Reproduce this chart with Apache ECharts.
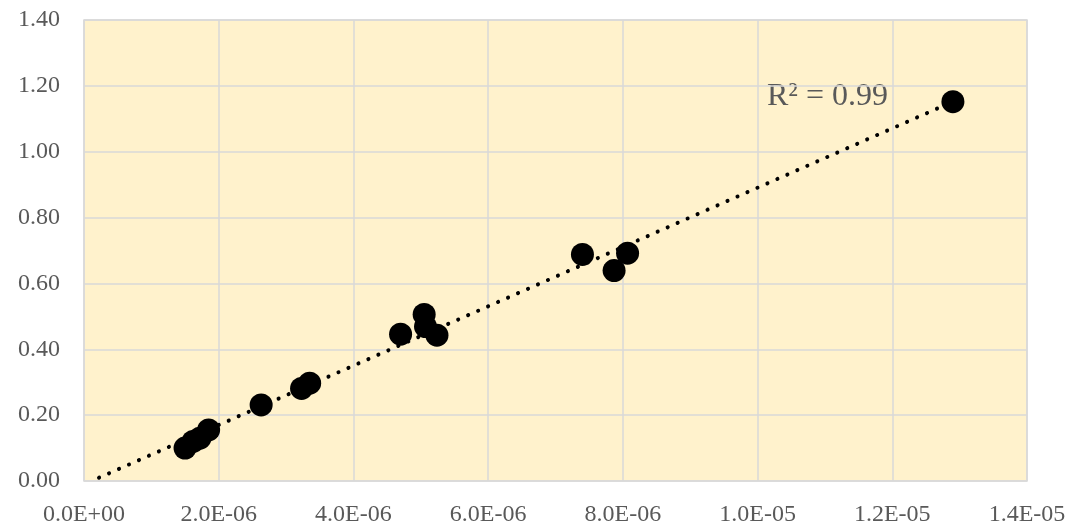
<!DOCTYPE html>
<html>
<head>
<meta charset="utf-8">
<script src="https://cdn.jsdelivr.net/npm/echarts@6/dist/echarts.min.js"></script>
<style>
html,body{margin:0;padding:0;background:#fff;}
#c{width:1091px;height:526px;}
</style>
</head>
<body>
<div id="c"></div>
<script>
const xValues = [1.50e-6, 1.62e-6, 1.72e-6, 1.85e-6, 2.63e-6, 3.23e-6, 3.35e-6, 4.70e-6, 5.05e-6, 5.07e-6, 5.24e-6, 7.40e-6, 7.87e-6, 8.07e-6, 1.29e-5];
const yValues = [0.10, 0.12, 0.13, 0.155, 0.231, 0.281, 0.297, 0.446, 0.506, 0.469, 0.443, 0.688, 0.639, 0.692, 1.152];
const trendX = [2.23e-7, 1.29e-5];
const trendY = [0.010, 1.152];
const r2Label = 'R² = 0.99';

const FONT = 'Liberation Serif';
const TXT = '#595959';

function sci(v) {
  if (v === 0) return '0.0E+00';
  let e = Math.floor(Math.log10(Math.abs(v)) + 1e-9);
  let m = v / Math.pow(10, e);
  let ms = m.toFixed(1);
  if (ms === '10.0') { e += 1; ms = '1.0'; }
  const sign = e < 0 ? '-' : '+';
  const ea = Math.abs(e);
  return ms + 'E' + sign + (ea < 10 ? '0' + ea : String(ea));
}

const labelStyle = {color: TXT, fontFamily: FONT, fontSize: 24};

const chart = echarts.init(document.getElementById('c'), null, {renderer: 'canvas'});
chart.setOption({
  animation: false,
  backgroundColor: '#ffffff',
  grid: {
    left: 84, top: 20, right: 64, bottom: 45,
    show: true, backgroundColor: '#FFF2CC', borderColor: '#D9D9D9', borderWidth: 1.5,
    outerBoundsMode: 'none'
  },
  xAxis: {
    type: 'value', min: 0, max: 1.4e-5, interval: 2e-6,
    axisLine: {show: false}, axisTick: {show: false},
    splitLine: {show: true, lineStyle: {color: '#D9D9D9', width: 1.5}},
    axisLabel: Object.assign({formatter: sci, margin: 22, hideOverlap: false}, labelStyle)
  },
  yAxis: {
    type: 'value', min: 0, max: 1.4, interval: 0.2,
    axisLine: {show: false}, axisTick: {show: false},
    splitLine: {show: true, lineStyle: {color: '#D9D9D9', width: 1.5}},
    axisLabel: Object.assign({formatter: v => v.toFixed(2), margin: 24}, labelStyle)
  },
  series: [
    {
      type: 'line',
      data: trendX.map((x, i) => [x, trendY[i]]),
      symbol: 'none',
      lineStyle: {color: '#000', width: 4, type: [0.1, 10.8], cap: 'round'},
      z: 2
    },
    {
      type: 'scatter',
      data: xValues.map((x, i) => [x, yValues[i]]),
      symbol: 'circle', symbolSize: 23,
      itemStyle: {color: '#000', opacity: 1},
      z: 3
    }
  ],
  graphic: [{
    type: 'text', left: 767, top: 81,
    style: {text: r2Label, fill: TXT, font: "32px 'Liberation Serif'"}
  }]
});
</script>
</body>
</html>
